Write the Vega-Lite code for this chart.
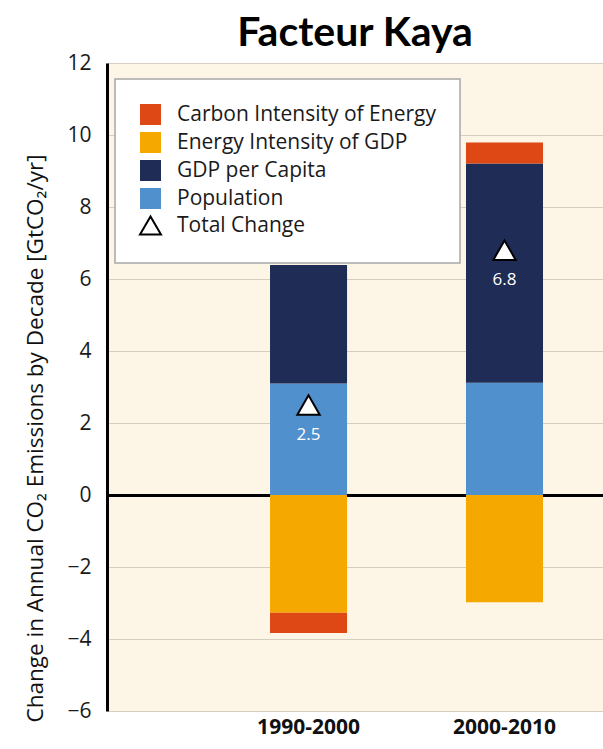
{
  "$schema": "https://vega.github.io/schema/vega-lite/v6.json",
  "width": 496,
  "height": 648,
  "autosize": {"type": "none"},
  "padding": {"left": 107, "top": 63, "right": 0, "bottom": 38},
  "background": "#ffffff",
  "config": {
    "view": {"fill": "#FDF5E6", "stroke": null},
    "font": "Open Sans"
  },
  "title": {
    "text": "Facteur Kaya",
    "font": "Lato",
    "fontSize": 41,
    "fontWeight": "bold",
    "color": "#000000",
    "anchor": "middle",
    "offset": -3
  },
  "datasets": {
    "parts": [
      {"period": "1990-2000", "component": "Population", "value": 3.10},
      {"period": "1990-2000", "component": "GDP per Capita", "value": 3.29},
      {"period": "1990-2000", "component": "Energy Intensity of GDP", "value": -3.27},
      {"period": "1990-2000", "component": "Carbon Intensity of Energy", "value": -0.56},
      {"period": "2000-2010", "component": "Population", "value": 3.12},
      {"period": "2000-2010", "component": "GDP per Capita", "value": 6.09},
      {"period": "2000-2010", "component": "Energy Intensity of GDP", "value": -2.98},
      {"period": "2000-2010", "component": "Carbon Intensity of Energy", "value": 0.58}
    ],
    "totals": [
      {"period": "1990-2000", "component": "Total Change", "total": 2.5},
      {"period": "2000-2010", "component": "Total Change", "total": 6.8}
    ]
  },
  "encoding": {
    "x": {
      "field": "period",
      "type": "nominal",
      "scale": {"paddingInner": 0.607, "paddingOuter": 0.569, "align": 0.731},
      "axis": {
        "title": null,
        "labelAngle": 0,
        "domain": false,
        "ticks": false,
        "grid": false,
        "labelFont": "Open Sans",
        "labelFontSize": 21,
        "labelFontWeight": "bold",
        "labelColor": "#111111",
        "labelPadding": 5
      }
    },
    "y": {
      "type": "quantitative",
      "scale": {"domain": [-6, 12], "nice": false, "zero": false},
      "axis": {
        "title": "Change in Annual CO₂ Emissions by Decade [GtCO₂/yr]",
        "titleFont": "Open Sans",
        "titleFontSize": 22.5,
        "titleFontWeight": 500,
        "titleColor": "#111111",
        "titlePadding": 19,
        "titleY": 375,
        "values": [-6, -4, -2, 0, 2, 4, 6, 8, 10, 12],
        "labelFont": "Open Sans",
        "labelFontSize": 21,
        "labelColor": "#1a1a1a",
        "labelPadding": 16,
        "ticks": false,
        "domainColor": "#000000",
        "domainWidth": 3,
        "grid": true,
        "gridColor": {"condition": {"test": "datum.value === 0", "value": "#000000"}, "value": "#D6CEC0"},
        "gridWidth": {"condition": {"test": "datum.value === 0", "value": 3}, "value": 1.2}
      }
    }
  },
  "layer": [
    {
      "data": {"name": "parts"},
      "mark": {"type": "bar"},
      "encoding": {
        "y": {"field": "value", "type": "quantitative", "stack": "zero"},
        "order": {"field": "component", "sort": "descending"},
        "color": {
          "field": "component",
          "type": "nominal",
          "scale": {
            "domain": ["Carbon Intensity of Energy", "Energy Intensity of GDP", "GDP per Capita", "Population", "Total Change"],
            "range": ["#DD4814", "#F5A800", "#1F2D56", "#5090CD", "#FFFFFF"]
          },
          "legend": {
            "title": null,
            "orient": "none",
            "legendX": 8,
            "legendY": 16,
            "padding": 24,
            "fillColor": "#ffffff",
            "strokeColor": "#A8A8A8",
            "symbolSize": 441,
            "symbolType": "square",
            "symbolStrokeWidth": 2,
            "labelFont": "Open Sans",
            "labelFontSize": 21,
            "labelColor": "#1a1a1a",
            "labelOffset": 15,
            "rowPadding": -1,
            "labelLimit": 400,
            "encode": {
              "legend": {"update": {"strokeWidth": {"value": 1.5}}},
              "symbols": {
                "update": {
                  "shape": {"signal": "datum.value === 'Total Change' ? 'triangle-up' : 'square'"},
                  "fill": {"scale": "color", "field": "value"},
                  "stroke": {"signal": "datum.value === 'Total Change' ? '#000000' : 'transparent'"},
                  "strokeWidth": {"value": 2},
                  "opacity": {"value": 1},
                  "fillOpacity": {"value": 1}
                }
              }
            }
          }
        }
      }
    },
    {
      "data": {"name": "totals"},
      "mark": {"type": "point", "shape": "triangle-up", "filled": true, "size": 500, "stroke": "#000000", "strokeWidth": 2, "opacity": 1},
      "encoding": {
        "y": {"field": "total", "type": "quantitative"},
        "color": {"field": "component", "type": "nominal"}
      }
    },
    {
      "data": {"name": "totals"},
      "mark": {"type": "text", "color": "#ffffff", "font": "Open Sans", "fontSize": 17, "dy": 30, "baseline": "middle"},
      "encoding": {
        "y": {"field": "total", "type": "quantitative"},
        "text": {"field": "total", "type": "quantitative", "format": ".1f"}
      }
    }
  ]
}
